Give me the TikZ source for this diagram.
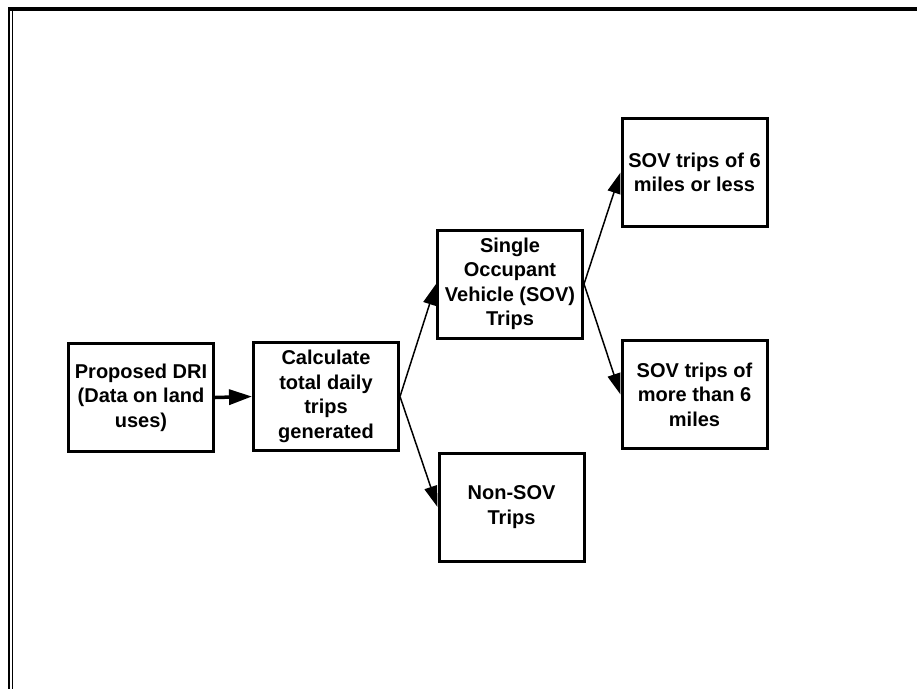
\documentclass[tikz,border=0pt]{standalone}
\usepackage{fontspec}
\setmainfont{Liberation Sans}
\usetikzlibrary{arrows.meta}
\begin{document}
\begin{tikzpicture}[x=1pt,y=-1pt,
  box/.style={draw, line width=3pt, minimum width=145pt, minimum height=108pt,
    inner sep=0pt, align=center, font=\fontsize{20pt}{24.5pt}\selectfont\bfseries},
  conn/.style={line width=1.5pt, -{Triangle[length=21pt,width=13pt]}},
  connthick/.style={line width=3.5pt, -{Triangle[length=23pt,width=15pt]}}
]
\useasboundingbox (0,0) rectangle (917,689);
\fill[white] (0,0) rectangle (917,689);
% frame
\draw[line width=4pt] (8,9) -- (917,9);
\draw[line width=2.6pt] (9,7) -- (9,689);
\draw[line width=1.4pt] (12.4,11) -- (12.4,689);
% boxes
\node[box] (b1) at (141,397.5) {Proposed DRI\\(Data on land\\uses)};
\node[box] (b2) at (326,396.5) {Calculate\\total daily\\trips\\generated};
\node[box] (b3) at (510,284) {Single\\Occupant\\Vehicle (SOV)\\Trips};
\node[box] (b4) at (694.5,172.5) {SOV trips of 6\\miles or less};
\node[box] (b5) at (694.5,394.5) {SOV trips of\\more than 6\\miles};
\node[box] (b6) at (511.5,507) {Non-SOV\\Trips};
% connectors
\draw[connthick] (b1.east) -- (b2.west);
\draw[conn] (b2.east) -- (b3.west);
\draw[conn] (b2.east) -- (b6.west);
\draw[conn] (b3.east) -- (b4.west);
\draw[conn] (b3.east) -- (b5.west);
\end{tikzpicture}
\end{document}
